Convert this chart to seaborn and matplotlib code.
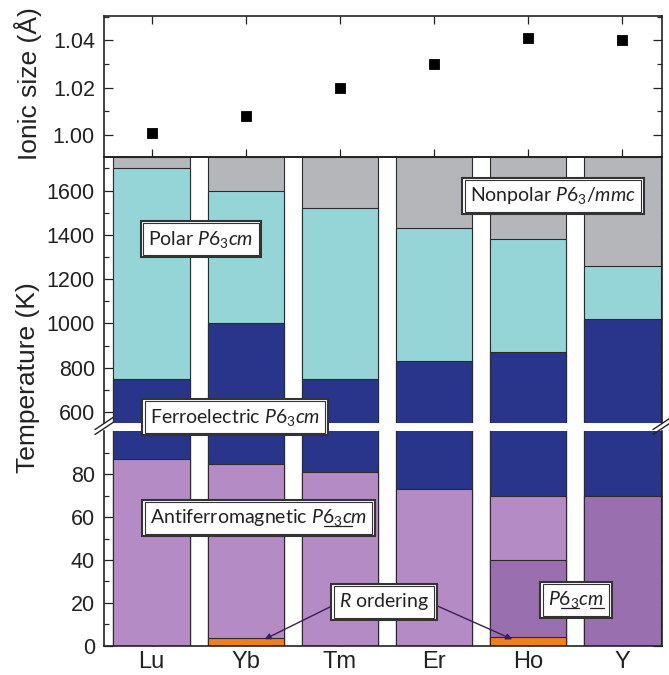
import matplotlib
matplotlib.use("Agg")
import matplotlib.pyplot as plt
import seaborn as sns
from matplotlib.ticker import FixedLocator
from matplotlib.lines import Line2D

# ---------------- data ----------------
elements = ["Lu", "Yb", "Tm", "Er", "Ho", "Y"]
ionic_size = [1.001, 1.008, 1.020, 1.030, 1.041, 1.040]
T_nonpolar = [1750, 1750, 1750, 1750, 1750, 1750]
T_polar = [1700, 1600, 1520, 1430, 1380, 1260]
T_ferro = [750, 1000, 750, 830, 870, 1020]
T_afm = [87, 85, 81, 73, 70, 70]
T_afm2 = [0, 0, 0, 0, 40, 70]
T_R = [0, 3.5, 0, 0, 4.2, 0]

c_gray = "#b4b6ba"
c_cyan = "#95d5d7"
c_navy = "#28358a"
c_lpur = "#b48bc4"
c_dpur = "#9a6fb0"
c_orng = "#f07e1c"
c_edge = "#2b2b2b"

sns.set_theme(style="ticks")
plt.rcParams["font.family"] = ["Liberation Sans", "DejaVu Sans"]
plt.rcParams["mathtext.fontset"] = "custom"
plt.rcParams["mathtext.rm"] = "Lato"
plt.rcParams["mathtext.it"] = "Lato:italic"
plt.rcParams["mathtext.fallback"] = "stixsans"

W, H = 669, 675
fig = plt.figure(figsize=(W / 100, H / 100), dpi=100)

def fx(px):
    return px / W

def fy(py):
    return 1 - py / H

left, right = 104, 662
ax_top = fig.add_axes([fx(left), fy(157.3), fx(right - left), (157.3 - 15.7) / H])
ax_mid = fig.add_axes([fx(left), fy(423), fx(right - left), (423 - 157.3) / H])
ax_bot = fig.add_axes([fx(left), fy(645.7), fx(right - left), (645.7 - 431) / H])

# ---------------- top: ionic size ----------------
sns.scatterplot(x=elements, y=ionic_size, marker="s", s=55, color="black",
                edgecolor="black", ax=ax_top, zorder=3)
ax_top.set_ylim(0.9905, 1.0505)
ax_top.yaxis.set_major_locator(FixedLocator([1.00, 1.02, 1.04]))
ax_top.yaxis.set_minor_locator(FixedLocator([0.99, 1.01, 1.03, 1.05]))

# ---------------- stacked (layered) bars ----------------
layers = [(T_nonpolar, c_gray), (T_polar, c_cyan), (T_ferro, c_navy),
          (T_afm, c_lpur), (T_afm2, c_dpur), (T_R, c_orng)]
for ax in (ax_mid, ax_bot):
    for vals, col in layers:
        sns.barplot(x=elements, y=vals, color=col, saturation=1, width=0.81,
                    edgecolor=c_edge, linewidth=0.8, errorbar=None, ax=ax)

ax_mid.set_ylim(550, 1750)
ax_mid.yaxis.set_major_locator(FixedLocator([600, 800, 1000, 1200, 1400, 1600]))
ax_mid.yaxis.set_minor_locator(FixedLocator([700, 900, 1100, 1300, 1500, 1700]))
ax_bot.set_ylim(0, 100.2)
ax_bot.yaxis.set_major_locator(FixedLocator([0, 20, 40, 60, 80]))
ax_bot.yaxis.set_minor_locator(FixedLocator([10, 30, 50, 70, 90]))

for ax in (ax_top, ax_mid, ax_bot):
    ax.set_xlim(-0.505, 5.42)
    ax.set_xlabel("")
    ax.set_ylabel("")
    ax.set_facecolor("none")
    for sp in ax.spines.values():
        sp.set_linewidth(1.2)
        sp.set_color("#222222")
        sp.set_visible(True)
    ax.tick_params(axis="y", which="major", direction="in", length=6.5, width=0.9,
                   left=True, right=True, labelsize=15.5, colors="#222222",
                   labelcolor="#222222", pad=6.5)
    ax.tick_params(axis="y", which="minor", direction="in", length=3.5, width=0.9,
                   left=True, right=True)
    ax.tick_params(axis="x", which="major", direction="in", length=6, width=0.9,
                   colors="#222222", labelsize=17, labelcolor="#222222", pad=4)

ax_top.tick_params(axis="x", top=True, bottom=True, labelbottom=False)
ax_mid.tick_params(axis="x", top=True, bottom=False, labelbottom=False)
ax_bot.tick_params(axis="x", top=False, bottom=True, labelbottom=True)
ax_mid.spines["bottom"].set_visible(False)
ax_bot.spines["top"].set_visible(False)

# break marks
for xb in (left, right):
    for dy in (-2.5, 2.5):
        fig.add_artist(Line2D([fx(xb - 9), fx(xb + 9)],
                              [fy(432 + dy), fy(420 + dy)],
                              color="#222222", lw=1.0))

# axis labels
fig.text(fx(28), fy(84), "Ionic size (Å)", rotation=90, ha="center", va="center",
         fontsize=19, color="#222222")
fig.text(fx(28), fy(378), "Temperature (K)", rotation=90, ha="center", va="center",
         fontsize=19, color="#222222")

# annotation boxes (double frame)
LFS = 14
LFAM = ["Lato", "DejaVu Sans"]
renderer = fig.canvas.get_renderer()

def text_width(s):
    t = fig.text(0, 0, s, fontsize=LFS, family=LFAM)
    w = t.get_window_extent(renderer=renderer).width
    t.remove()
    return w

def label(px, py, s, underlines=()):
    base = py + 5.5
    kw = dict(ha="center", va="baseline", fontsize=LFS, family=LFAM)
    fig.text(fx(px), fy(base), s, color="#222222", zorder=10,
             bbox=dict(boxstyle="square,pad=0.26", fc="white", ec="#333333", lw=0.8), **kw)
    fig.text(fx(px), fy(base), s, color="none", zorder=9,
             bbox=dict(boxstyle="square,pad=0.40", fc="white", ec="#333333", lw=1.5), **kw)
    wfull = text_width(s)
    x0 = px - wfull / 2
    for a, b in underlines:
        xa = x0 + text_width(a) + 0.5
        xb = x0 + text_width(b) - 0.5
        fig.add_artist(Line2D([fx(xa), fx(xb)], [fy(base + 2.5), fy(base + 2.5)],
                              color="#222222", lw=0.9, zorder=11))

label(201, 239, r"Polar $P6_3cm$")
label(553, 196, r"Nonpolar $P6_3/mmc$")
label(235, 417, r"Ferroelectric $P6_3cm$")
label(258.5, 518, r"Antiferromagnetic $P6_3cm$",
      underlines=[(r"Antiferromagnetic $P$", r"Antiferromagnetic $P6_3$"),
                  (r"Antiferromagnetic $P6_3$", r"Antiferromagnetic $P6_3c$")])
label(576, 600, r"$P6_3cm$",
      underlines=[(r"$P$", r"$P6_3$"), (r"$P6_3c$", r"$P6_3cm$")])
label(384, 602, r"$R$ ordering")

# arrows for R ordering
ax_bot.annotate("", xy=(1.2, 3.0), xytext=(fx(336), fy(604)),
                textcoords="figure fraction",
                arrowprops=dict(arrowstyle="-|>", color="#3a1f55", lw=1.0,
                                mutation_scale=9, shrinkA=0, shrinkB=0), zorder=8)
ax_bot.annotate("", xy=(3.83, 3.0), xytext=(fx(433), fy(604)),
                textcoords="figure fraction",
                arrowprops=dict(arrowstyle="-|>", color="#3a1f55", lw=1.0,
                                mutation_scale=9, shrinkA=0, shrinkB=0), zorder=8)

fig.savefig("out.png", dpi=100, facecolor="white")
